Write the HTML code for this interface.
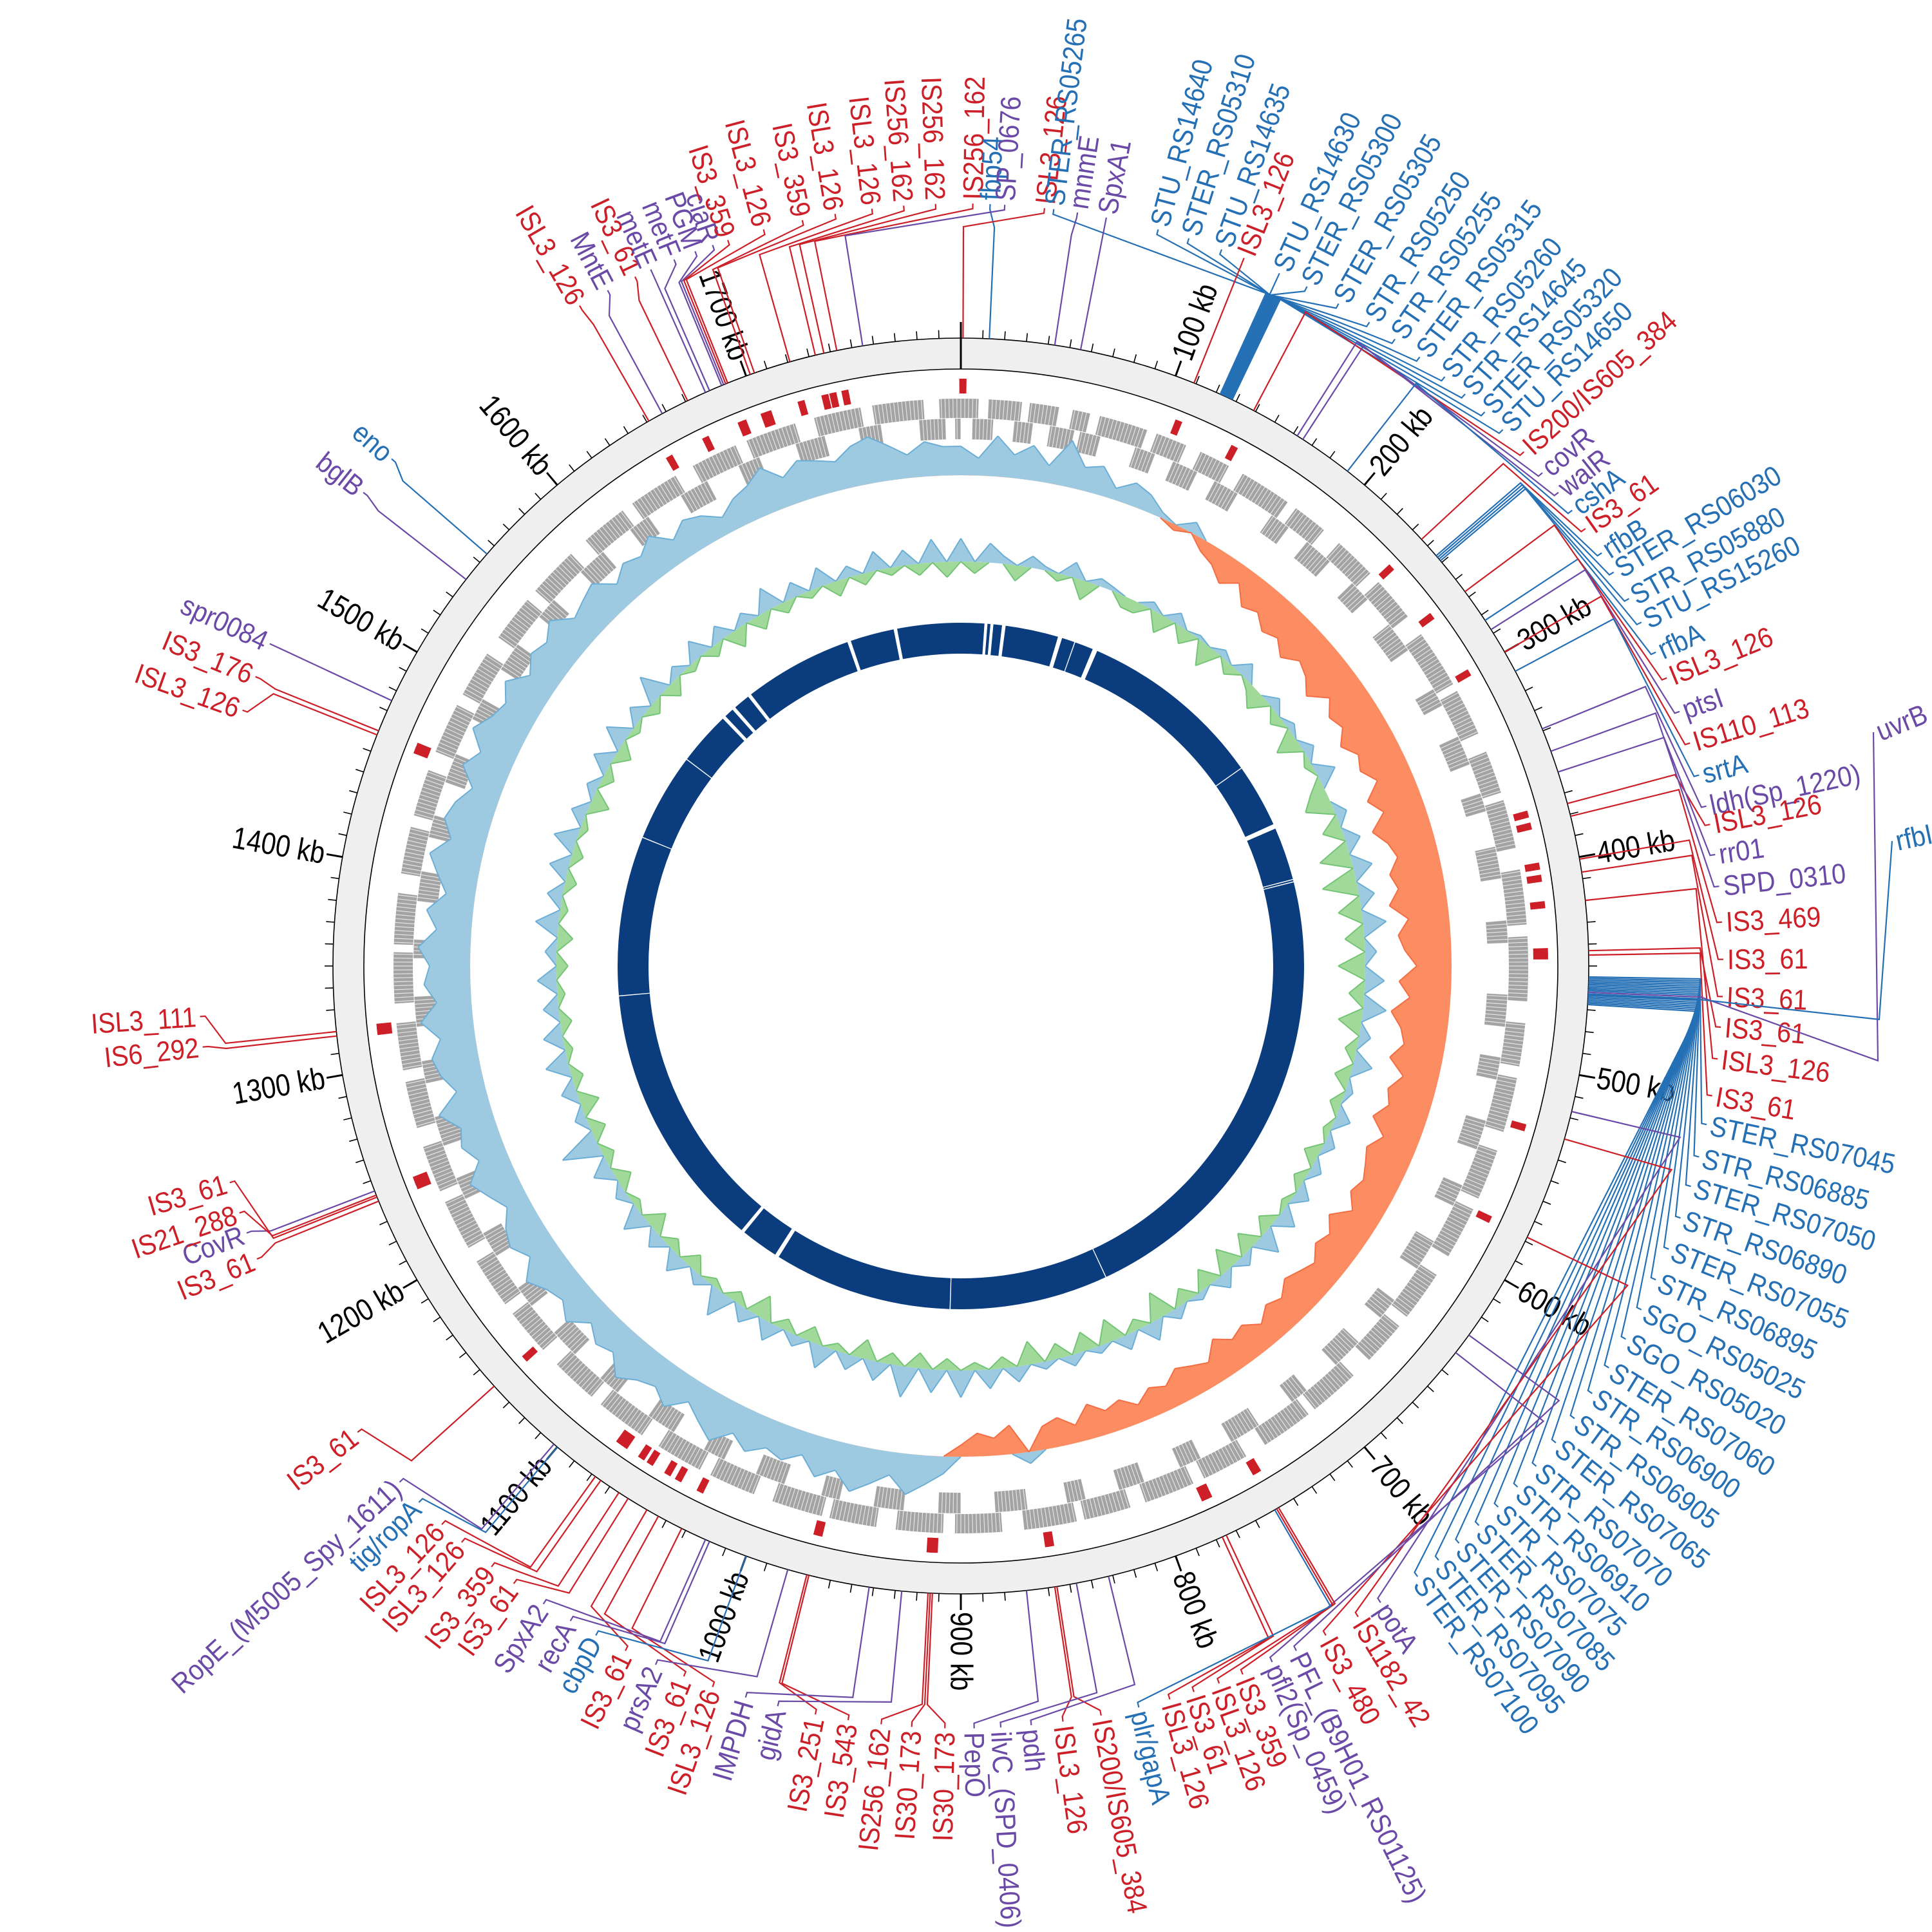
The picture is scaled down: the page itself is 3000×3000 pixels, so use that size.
<!DOCTYPE html>
<html>
<head>
<meta charset="utf-8">
<style>
html,body{margin:0;padding:0;background:#fff;}
svg{display:block;}
text{font-family:"Liberation Sans",sans-serif;}
</style>
</head>
<body>
<svg id="chart" xmlns="http://www.w3.org/2000/svg" width="3000" height="3000" viewBox="0 0 3000 3000">
<rect x="0" y="0" width="3000" height="3000" fill="#ffffff"/>
</svg>
<script>
// ===== data =====
const genomeKb = 1800;
const tickKb = [100,200,300,400,500,600,700,800,900,1000,1100,1200,1300,1400,1500,1600,1700];
const tickLabels = ["100 kb","200 kb","300 kb","400 kb","500 kb","600 kb","700 kb","800 kb","900 kb","1000 kb","1100 kb","1200 kb","1300 kb","1400 kb","1500 kb","1600 kb","1700 kb"];

// GC skew, one value every 10 kb (positive = blue outward, negative = orange inward)
const gcSkew = [0.5,0.3,0.7,0.4,0.6,0.3,0.8,0.4,0.5,0.2,0.4,0.3,0.1,
-0.1,0.2,-0.2,-0.3,-0.5,-0.3,-0.6,
-0.5,-0.7,-0.6,-0.8,-0.6,-0.7,-0.9,-0.6,-0.8,-0.7,-0.9,-0.7,-0.8,-0.6,-0.9,-0.7,-1.0,-0.8,-0.7,-0.9,
-0.8,-1.0,-0.7,-0.9,-0.8,-0.6,-0.9,-0.7,-1.0,-0.8,-0.7,-0.9,-0.6,-0.8,-0.7,-0.9,-0.6,-0.8,-0.7,-0.6,
-0.7,-0.5,-0.8,-0.6,-0.7,-0.5,-0.6,-0.7,-0.5,-0.6,-0.4,-0.6,-0.5,-0.7,-0.4,-0.5,-0.6,-0.4,-0.5,-0.3,
-0.5,-0.4,-0.6,-0.3,-0.5,-0.4,0.2,-0.5,-0.3,-0.4,-0.2,0.3,
0.5,0.7,0.4,0.6,0.8,0.5,0.7,0.4,0.6,0.5,
0.7,0.5,0.8,0.6,0.4,0.7,0.5,0.6,0.8,0.5,
0.6,0.4,0.7,0.5,0.6,0.8,0.5,0.7,0.6,0.4,
0.6,0.8,0.5,0.7,0.6,0.9,0.5,0.7,0.8,0.6,
0.9,0.6,0.8,0.7,0.9,0.6,0.8,0.5,0.7,0.9,
0.6,0.8,0.7,0.5,0.8,0.6,0.9,0.7,0.6,0.8,
0.5,0.7,0.6,0.8,0.5,0.6,0.7,0.4,0.6,0.5,
0.7,0.4,0.6,0.5,0.3,0.5,0.6,0.8,0.5,0.7,
0.6,0.5,0.7,0.8,0.6,0.4,0.6,0.5];

// GC content deviation, one value every 10 kb (positive = blue outward, negative = green inward)
const gcContent = [0.6,-0.3,0.5,0.2,-0.4,0.3,0.1,-0.2,0.4,-0.5,0.2,0.1,-0.3,
-0.3,0.2,-0.5,0.3,-0.4,0.1,-0.6,0.2,-0.3,0.4,-0.2,-0.5,0.3,-0.3,0.2,-0.6,0.3,-0.2,0.5,-0.4,-0.7,0.3,-0.5,0.4,-0.8,0.5,
-0.9,0.4,-0.6,0.6,-0.5,0.3,-0.7,0.5,-0.4,0.6,-0.6,0.3,-0.3,0.5,-0.4,0.2,-0.3,0.4,-0.2,0.3,-0.4,
0.3,-0.3,0.4,-0.2,0.5,-0.4,0.6,-0.5,0.3,-0.6,0.4,-0.5,0.2,-0.4,0.3,-0.7,0.5,-0.3,0.4,-0.6,0.2,-0.5,0.3,-0.4,0.2,-0.6,0.4,-0.3,0.5,-0.2,0.7,-0.3,
0.6,-0.4,0.8,-0.3,0.5,-0.5,0.4,-0.2,0.6,-0.4,
0.3,-0.3,0.5,-0.6,0.4,-0.3,0.7,-0.2,0.3,-0.4,
0.5,-0.3,0.4,-0.5,0.6,-0.2,0.3,-0.4,0.5,-0.3,
1.0,-0.4,0.3,-0.5,0.4,-0.3,0.6,-0.2,0.5,-0.3,
0.4,-0.2,0.5,-0.3,0.3,-0.4,0.6,-0.2,0.4,-0.3,
0.5,-0.3,0.6,-0.2,0.4,-0.5,0.3,-0.3,0.5,-0.4,
0.6,-0.2,0.4,-0.3,0.7,-0.4,0.3,-0.2,0.5,-0.3,
0.4,-0.5,0.3,-0.4,0.6,-0.3,0.4,-0.2,0.5,-0.4,
0.3,-0.3,0.5,-0.2,0.4,-0.3,0.6,-0.4];

// forward-strand gene blocks [startKb, endKb]
const geneFwd = [[0,9],[14,31],[35,50],[57,66],[71,96],[101,117],[125,141],[149,176],[181,199],[209,231],[237,260],[271,301],[305,329],[339,361],[365,390],[401,429],[435,468],[479,501],[507,535],[545,571],[577,604],[615,641],[647,670],[681,707],[711,738],[749,773],[779,805],[813,837],[841,868],[879,903],[909,933],[943,967],[971,997],[1007,1031],[1037,1061],[1071,1097],[1103,1127],[1137,1161],[1167,1193],[1201,1227],[1233,1257],[1267,1291],[1297,1321],[1331,1357],[1361,1387],[1397,1421],[1427,1451],[1461,1487],[1493,1517],[1527,1551],[1557,1583],[1593,1617],[1623,1649],[1659,1683],[1689,1715],[1725,1749],[1755,1781],[1789,1800]];

// navy ring gaps [kb, widthKb]
const ringGaps = [[21,2.5],[26,2.5],[36,3],[84,3.5],[97,0.8],[115,4],[274,0.8],[330,4],[377,0.8],[379,0.8],[775,0.8],[909,0.8],[1062,3.5],[1097,3],[1325,0.8],[1460,0.8],[1535,0.8],[1582,3],[1593,3],[1610,3],[1705,3],[1745,3]];

// annotated features
const featNames = ["IS256_162","fbp54","SP_0676","ISL3_126","STER_RS05265","mnmE","SpxA1",
"STU_RS14640","STER_RS05310","STU_RS14635","ISL3_126","STU_RS14630","STER_RS05300","STER_RS05305","STR_RS05250","STR_RS05255","STER_RS05315","STR_RS05260","STR_RS14645","STER_RS05320","STU_RS14650",
"IS200/IS605_384","covR","walR","cshA","IS3_61","rfbB","STER_RS06030","STR_RS05880","STU_RS15260","rfbA","ISL3_126","ptsI","IS110_113","srtA","ldh(Sp_1220)","ISL3_126","rr01","SPD_0310","IS3_469","IS3_61","IS3_61","IS3_61","ISL3_126","IS3_61",
"STER_RS07045","STR_RS06885","STER_RS07050","STR_RS06890","STER_RS07055","STR_RS06895","SGO_RS05025","SGO_RS05020","STER_RS07060","STR_RS06900","STR_RS06905","STER_RS07065","STR_RS07070","STR_RS06910","STR_RS07075","STER_RS07085","STER_RS07090","STER_RS07095","STER_RS07100",
"potA","IS1182_42","IS3_480","PFL_(B9H01_RS01125)","pfl2(Sp_0459)","IS3_359","ISL3_126","IS3_61","ISL3_126","plr/gapA","IS200/IS605_384","ISL3_126","pdh","ilvC_(SPD_0406)","PepO","IS30_173","IS30_173","IS256_162","IS3_543","IS3_251","gidA","IMPDH","ISL3_126","IS3_61","prsA2","IS3_61","cbpD","recA","SpxA2","IS3_61","IS3_359","ISL3_126","ISL3_126","tig/ropA","RopE_(M5005_Spy_1611)","IS3_61",
"IS3_61","CovR","IS21_288","IS3_61","IS6_292","ISL3_111","ISL3_126","IS3_176","spr0084","bglB","eno",
"ISL3_126","MntE","IS3_61","metE","metF","PGM","ciaR","IS3_359","ISL3_126","IS3_359","ISL3_126","ISL3_126","IS256_162","IS256_162"];
const featTypes = ["r","b","p","r","b","p","p",
"b","b","b","r","b","b","b","b","b","b","b","b","b","b",
"r","p","p","b","r","b","b","b","b","b","r","p","r","b","p","r","p","p","r","r","r","r","r","r",
"b","b","b","b","b","b","b","b","b","b","b","b","b","b","b","b","b","b","b",
"p","r","r","p","p","r","r","r","r","b","r","r","p","p","p","r","r","r","r","r","p","p","r","r","p","r","b","p","p","r","r","r","r","b","p","r",
"r","p","r","r","r","r","r","r","p","p","b",
"r","p","r","p","p","p","p","r","r","r","r","r","r","r"];
const featKb = [1743,13,1755,1,125,43,55,
122,122.5,123,109,123.5,124,124.5,125,125.5,126,126.5,127,127.5,128,
139,162,165,190,236,246,247,248,249,283,267,288,300,310,339,375,360,350,381,401,407,443,420,445,
455,455.7,456.4,457.1,457.8,458.5,459.2,459.9,460.6,461.3,462,462.7,463.4,464.1,464.8,465.5,466.2,466.9,467.6,
517,530,578,630,640,748,749,775,777,750,856,857,832,847,870,913,914,915,970,971,927,942,1032,1044,980,1050,1000,1018,1020,1060,1065,1075,1078,1100,1102,1140,
1240,1245,1243,1242,1318,1320,1458,1460,1475,1540,1555,
1651,1658,1671,1680,1682,1688,1689,1690,1691,1702,1704,1721,1733,1737];
const labelDeg = [0.9,2.2,3.3,6.3,7.0,8.8,11.0,
15,17.4,20,21.8,24.7,27,29.7,32.4,34.7,37,39.4,41.4,43.4,45.3,
47.6,49.7,51.6,53.3,55,57.2,58.9,61.2,63.2,65.7,67.8,70.5,73,75.5,77.9,79.3,81.6,84,86.7,89.5,92.3,94.6,97,99.8,
102,104.5,106.8,109.3,111.8,114.3,116.8,119.3,121.8,124.1,126.4,128.7,131,133.1,135.2,137.2,139.2,141.2,143.2,
146.6,148.6,151.4,153.9,155.9,158.3,160.2,162.2,164.1,166.5,169.4,172.3,174.7,177,179,181.2,183.7,186,188.5,191,193.9,196.4,199,201.3,203.6,206.1,208.6,210.8,213.2,215.9,218,220.9,222.9,225.3,227.4,232.3,
247.4,249.5,251.1,253.5,263.9,266.2,289.6,292.3,295,308.4,311.7,
330,332.4,334.7,336,337.9,339.6,341,342.2,345,348,350.5,353.3,355.7,358.1];

const farNames = ["uvrB","rfbI"];
const farKb = [462,463];

// ===== drawing =====
const NS = "http://www.w3.org/2000/svg";
const svg = document.getElementById("chart");
const CX = 1492, CY = 1500;
const COLORS = {r:"#cc1f27", b:"#2570b5", p:"#6a4aa6"};
function kbDeg(kb){ return kb / genomeKb * 360; }
function P(r, d){ const a = d*Math.PI/180; return [CX + r*Math.sin(a), CY - r*Math.cos(a)]; }
function f(p){ return p[0].toFixed(1)+","+p[1].toFixed(1); }
function mk(tag, attrs, parent){
  const el = document.createElementNS(NS, tag);
  for (const k in attrs) el.setAttribute(k, attrs[k]);
  (parent || svg).appendChild(el);
  return el;
}
function group(name){
  const g = mk("g", {});
  
  
  return g;
}
function annulus(r1, r2, d1, d2){
  const large = (d2 - d1) > 180 ? 1 : 0;
  return "M"+f(P(r2,d1))+" A"+r2+","+r2+" 0 "+large+" 1 "+f(P(r2,d2))+" L"+f(P(r1,d2))+" A"+r1+","+r1+" 0 "+large+" 0 "+f(P(r1,d1))+" Z";
}

// outer ring
const gRing = group("position-ring");
let el = mk("circle", {cx:CX, cy:CY, r:951, fill:"none", stroke:"#efefef", "stroke-width":48}, gRing);


el = mk("circle", {cx:CX, cy:CY, r:975, fill:"none", stroke:"#000", "stroke-width":1.6}, gRing);


el = mk("circle", {cx:CX, cy:CY, r:927, fill:"none", stroke:"#000", "stroke-width":1.6}, gRing);



// ticks
const gTicks = group("axis-ticks");
for (let kb = 0; kb < genomeKb; kb += 10) {
  const d = kbDeg(kb);
  const major = kb % 100 === 0;
  const r0 = kb === 0 ? 927 : 975;
  const r1 = major ? 1000 : 988;
  const t = mk("line", {x1:P(r0,d)[0], y1:P(r0,d)[1], x2:P(r1,d)[0], y2:P(r1,d)[1], stroke:"#000", "stroke-width": major ? 3 : 1.6}, gTicks);
  
  
}
const gTickLab = group("axis-tick-labels");
tickKb.forEach((kb, i) => {
  const d = kbDeg(kb);
  const p = P(1003, d);
  const right = d <= 180;
  const rot = right ? d - 90 : d + 90;
  const t = mk("text", {transform:"translate("+f(p)+") rotate("+rot.toFixed(2)+") scale(0.85,1)", "font-size":48, "text-anchor": right ? "start" : "end", "dominant-baseline":"central", fill:"#000"}, gTickLab);
  t.textContent = tickLabels[i];
  
  
});

// IS element marks
const gIS = group("is-element-track");
featKb.forEach((kb, i) => {
  if (featTypes[i] !== "r") return;
  const d = kbDeg(kb);
  const m = mk("path", {d: annulus(889, 912, d - 0.35, d + 0.35), fill:"#cc1f27"}, gIS);
  
  
});

// gene track
const gGenes = group("gene-track");
geneFwd.forEach(s => {
  const g = mk("path", {d: annulus(851, 881, kbDeg(s[0]), kbDeg(s[1])), fill:"#a3a3a3"}, gGenes);
  
  
});
for (let i = 0; i < geneFwd.length; i++) {
  const a = geneFwd[i][1] - 3;
  const b = (i + 1 < geneFwd.length ? geneFwd[i+1][0] : genomeKb) + 3;
  const g = mk("path", {d: annulus(818, 850, kbDeg(Math.max(a,0)), kbDeg(Math.min(b,genomeKb))), fill:"#a3a3a3"}, gGenes);
  
  
}
let stripes = "";
for (let kb = 0; kb < genomeKb; kb += 2) {
  const d = kbDeg(kb);
  stripes += "M" + f(P(818, d)) + "L" + f(P(881, d));
}
el = mk("path", {d:stripes, stroke:"#ffffff", "stroke-width":1.2, "stroke-opacity":0.7, fill:"none"}, gGenes);



// area track helper
function areaTrack(values, base, scale, sign, fill, stroke, name, parent){
  let curve = "", outline = "";
  const n = values.length;
  const clip = v => sign > 0 ? Math.max(v, 0) : Math.min(v, 0);
  for (let i = 0; i <= n; i++) {
    const vv = clip(values[i % n]);
    const p = P(base + vv*scale, kbDeg(i * genomeKb / n));
    curve += (i === 0 ? "M" : "L") + f(p);
    if (i > 0) {
      const pv = clip(values[(i - 1) % n]);
      if (pv !== 0 || vv !== 0) {
        const q = P(base + pv*scale, kbDeg((i - 1) * genomeKb / n));
        outline += "M" + f(q) + "L" + f(p);
      }
    }
  }
  const circ = " M" + f(P(base,0)) + " A"+base+","+base+" 0 1 0 "+f(P(base,180))+" A"+base+","+base+" 0 1 0 "+f(P(base,0))+" Z";
  const a = mk("path", {d:curve + "Z" + circ, fill:fill, stroke:"none", "fill-rule":"evenodd"}, parent);
  
  
  const l = mk("path", {d:outline, fill:"none", stroke:stroke, "stroke-width":2}, parent);
  
  
}
const gSkew = group("gc-skew-track");
areaTrack(gcSkew, 762, 90, 1, "#9ecae1", "#6baed6", "gc-skew-positive", gSkew);
areaTrack(gcSkew, 762, 90, -1, "#fc8d62", "#f46d43", "gc-skew-negative", gSkew);
const gGC = group("gc-content-track");
areaTrack(gcContent, 628, 60, 1, "#9ecae1", "#6baed6", "gc-content-above", gGC);
areaTrack(gcContent, 628, 60, -1, "#a1d99b", "#74c476", "gc-content-below", gGC);

// navy ring
const gNavy = group("contig-ring");
const gs = ringGaps.slice().sort((a,b) => a[0]-b[0]);
for (let i = 0; i < gs.length; i++) {
  const s = gs[i][0] + gs[i][1]/2;
  const e = i + 1 < gs.length ? gs[i+1][0] - gs[i+1][1]/2 : gs[0][0] - gs[0][1]/2 + genomeKb;
  const seg = mk("path", {d: annulus(485, 533, kbDeg(s), kbDeg(e)), fill:"#0b3d7e"}, gNavy);
  
  
}

// labels and leaders
const gLab = group("feature-labels");
featNames.forEach((name, i) => {
  const col = COLORS[featTypes[i]];
  const fd = kbDeg(featKb[i]);
  const ld = labelDeg[i];
  const pts = [P(975, fd), P(1148, fd), P(1176, ld), P(1184, ld)].map(f).join(" ");
  const ln = mk("polyline", {points:pts, fill:"none", stroke:col, "stroke-width":2.2}, gLab);
  
  
  const right = (ld <= 180 && ld > 0) || ld < 1;
  const rot = right ? ld - 90 : ld + 90;
  const p = P(1190, ld);
  const t = mk("text", {transform:"translate("+f(p)+") rotate("+rot.toFixed(2)+") scale(0.9,1)", "font-size":44, "text-anchor": right ? "start" : "end", "dominant-baseline":"central", fill:col}, gLab);
  t.textContent = name;
  
  
});

// far labels
const farEnds = [[2916,1647,2909,1137,-22],[2918,1583,2938,1306,-12]];
const farCols = ["#6a4aa6","#2570b5"];
farNames.forEach((name, i) => {
  const fd = kbDeg(farKb[i]);
  const e = farEnds[i];
  const kneeP = P(1150, fd);
  const pts = [f(P(975, fd)), f(kneeP), e[0]+","+e[1], e[2]+","+e[3]].join(" ");
  const ln = mk("polyline", {points:pts, fill:"none", stroke:farCols[i], "stroke-width":2.2}, gLab);
  
  
  const t = mk("text", {transform:"translate("+(e[2]+6)+","+e[3]+") rotate("+e[4]+") scale(0.9,1)", "font-size":44, "dominant-baseline":"central", fill:farCols[i]}, gLab);
  t.textContent = name;
  
  
});
</script>
</body>
</html>
